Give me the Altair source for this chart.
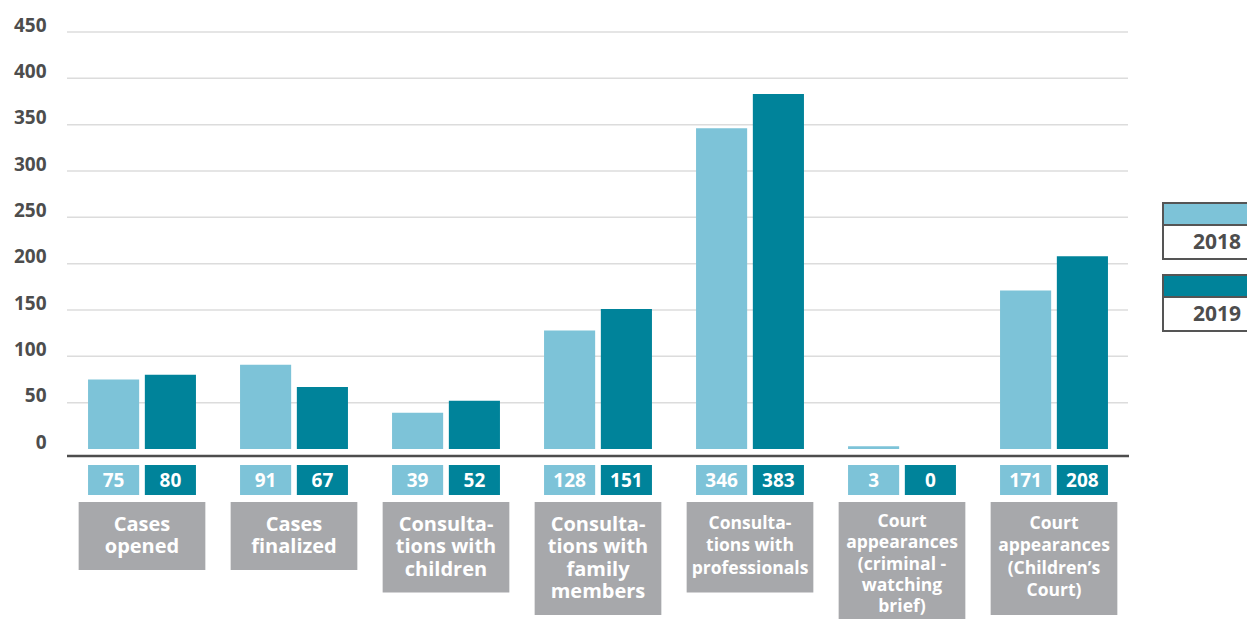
import altair as alt
import pandas as pd

categories = ["Cases opened", "Cases finalized", "Consultations with children",
              "Consultations with family members", "Consultations with professionals",
              "Court appearances (criminal - watching brief)",
              "Court appearances (Children's Court)"]
label_lines = [["Cases", "opened"], ["Cases", "finalized"],
               ["Consulta-", "tions with", "children"],
               ["Consulta-", "tions with", "family", "members"],
               ["Consulta-", "tions with", "professionals"],
               ["Court", "appearances", "(criminal -", "watching", "brief)"],
               ["Court", "appearances", "(Children\u2019s", "Court)"]]
years = ["2018", "2019"]
values_2018 = [75, 91, 39, 128, 346, 3, 171]
values_2019 = [80, 67, 52, 151, 383, 0, 208]
y_ticks = [0, 50, 100, 150, 200, 250, 300, 350, 400, 450]

LIGHT = "#7DC3D8"
DARK = "#00839A"
GREY_BOX = "#A7A8AB"
TXT = "#4D4D4D"
FONT = "Open Sans"

W, H = 1064, 417

rows = []
for c, a, b in zip(categories, values_2018, values_2019):
    rows.append({"cat": c, "year": "2018", "val": a})
    rows.append({"cat": c, "year": "2019", "val": b})
df = pd.DataFrame(rows)

lab = pd.DataFrame({
    "cat": categories,
    "lines": label_lines,
    "n": [len(l) for l in label_lines],
    "fs": [20 if i < 4 else 17.5 for i in range(len(categories))],
})

xscale = alt.Scale(domain=categories, paddingInner=0.29, paddingOuter=0.145)
X = alt.X("cat:N", sort=categories, scale=xscale, axis=None)
XO = alt.XOffset("year:N", scale=alt.Scale(domain=years, paddingInner=0.1, paddingOuter=0))
COL = alt.Color("year:N", scale=alt.Scale(domain=years, range=[LIGHT, DARK]), legend=None)
yscale = alt.Scale(domain=[0, 450], nice=False)

grid = alt.Chart(pd.DataFrame({"v": y_ticks[1:]})).mark_rule(
    color="#DCDCDC", strokeWidth=1.5
).encode(
    y=alt.Y("v:Q", scale=yscale,
            axis=alt.Axis(values=y_ticks, grid=False, domain=False, ticks=False,
                          labelPadding=20, labelFontSize=19, labelFontWeight="bold",
                          labelColor=TXT, labelFont=FONT, labelOffset=-7, title=None)),
    x=alt.value(1), x2=alt.value(1062),
)

bars = alt.Chart(df).mark_bar().encode(
    x=X, xOffset=XO, y=alt.Y("val:Q", scale=yscale), color=COL
)

base_line = alt.Chart(pd.DataFrame({"a": [0]})).mark_rule(
    color=TXT, strokeWidth=2.5
).encode(y=alt.value(424), x=alt.value(1), x2=alt.value(1063))

val_boxes = alt.Chart(df).mark_bar().encode(
    x=X, xOffset=XO, color=COL, y=alt.value(433), y2=alt.value(463)
)
val_text = alt.Chart(df).mark_text(
    color="white", font=FONT, fontWeight="bold", fontSize=19, baseline="middle"
).encode(x=X, xOffset=XO, y=alt.value(449), text=alt.Text("val:Q"))

box_layers = []
for n in sorted(lab["n"].unique()):
    sub = lab[lab["n"] == n]
    bottom = 470 + 22.5 * n + 23
    box_layers.append(
        alt.Chart(sub).mark_bar(width=126.7, color=GREY_BOX).encode(
            x=X, y=alt.value(470), y2=alt.value(bottom)
        )
    )

short = lab[lab["n"] < 5]
tall = lab[lab["n"] >= 5]
cat_text = alt.Chart(short).mark_text(
    color="white", font=FONT, fontWeight="bold", baseline="top", lineHeight=22.3
).encode(x=X, y=alt.value(483), text="lines",
         size=alt.Size("fs:Q", scale=None, legend=None))
cat_text_tall = alt.Chart(tall).mark_text(
    color="white", font=FONT, fontWeight="bold", baseline="top", lineHeight=21.3
).encode(x=X, y=alt.value(481), text="lines",
         size=alt.Size("fs:Q", scale=None, legend=None))

legend_layers = []
for i, yr in enumerate(years):
    top = 171 + 72 * i
    ld = pd.DataFrame({"year": [yr]})
    legend_layers.append(alt.Chart(ld).mark_rect(
        fill="white", stroke="#555555", strokeWidth=2
    ).encode(x=alt.value(1097), x2=alt.value(1210), y=alt.value(top), y2=alt.value(top + 56)))
    legend_layers.append(alt.Chart(ld).mark_rect(
        stroke="#555555", strokeWidth=2
    ).encode(x=alt.value(1097), x2=alt.value(1210), y=alt.value(top), y2=alt.value(top + 22),
             fill=alt.Fill("year:N", scale=alt.Scale(domain=years, range=[LIGHT, DARK]), legend=None)))
    legend_layers.append(alt.Chart(ld).mark_text(
        color=TXT, font=FONT, fontWeight="bold", fontSize=21, baseline="middle"
    ).encode(x=alt.value(1151), y=alt.value(top + 40), text="year:N"))

chart = alt.layer(
    grid, bars, base_line, val_boxes, val_text, *box_layers, cat_text, cat_text_tall,
    *legend_layers
).properties(
    width=W, height=H,
    autosize=alt.AutoSizeParams(type="none"),
    padding={"left": 58, "top": 24, "right": 117, "bottom": 170},
    background="white",
).configure_view(stroke=None)

chart.save("out.html", embed_options={"renderer": "svg", "actions": False})
